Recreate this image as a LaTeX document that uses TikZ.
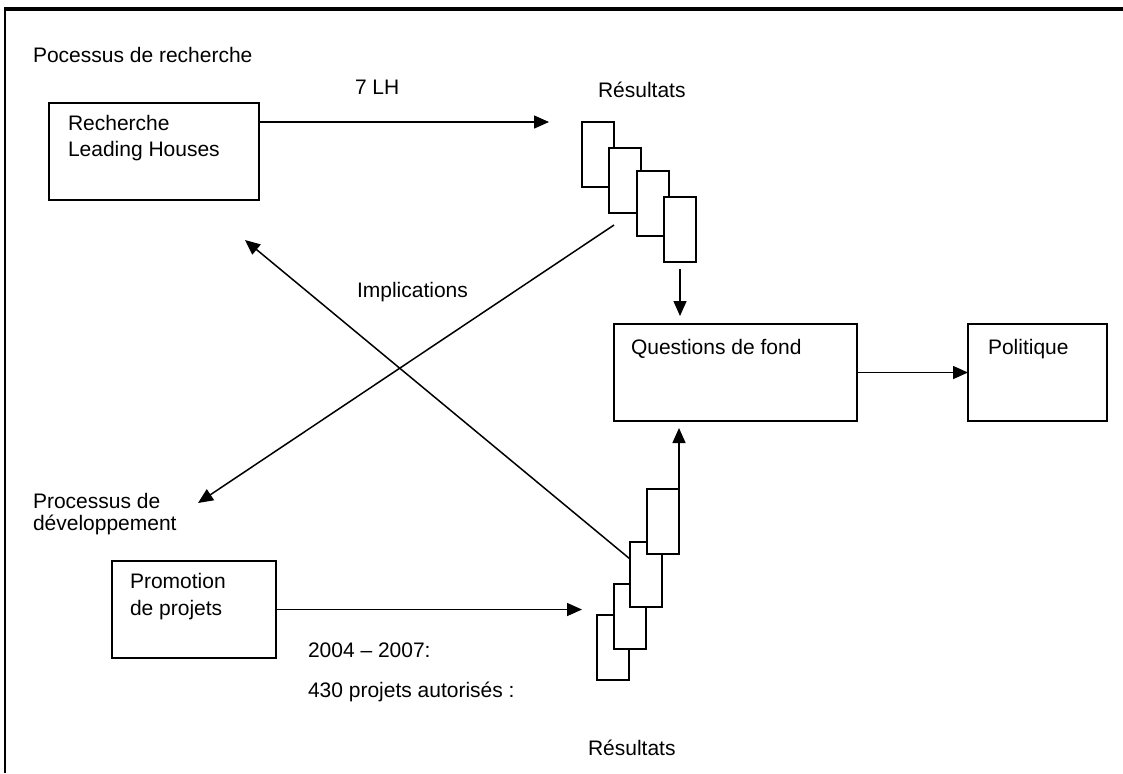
\documentclass[tikz,border=0pt]{standalone}
\usepackage{fontspec}
\setmainfont{Liberation Sans}
\usetikzlibrary{arrows.meta}
\begin{document}
\begin{tikzpicture}[x=0.5pt,y=-0.5pt,
		every node/.style={inner sep=0,outer sep=0,font=\fontsize{10.5pt}{13pt}\selectfont},
		txt/.style={anchor=base west},
		box/.style={draw,line width=0.9pt,anchor=north west,minimum height=48.5pt},
		doc/.style={draw,fill=white,line width=0.9pt,anchor=north west,minimum width=16pt,minimum height=32.5pt},
		arr/.style={line width=0.75pt,-{Triangle[length=7.5pt,width=6.5pt]}}]
				\useasboundingbox (0,0) rectangle (1123,773);
				\draw[line width=1pt] (5,773) -- (5,9);
				\draw[line width=1.6pt] (4,9) -- (1123,9);
				\node[box,minimum width=105pt] (rech) at (49,103) {};
				\node[box,minimum width=121.5pt] (quest) at (614,324) {};
				\node[box,minimum width=69.5pt] (pol) at (968,324) {};
				\node[box,minimum width=82pt] (prom) at (112,561) {};
				\node[doc] (S1) at (582,122) {};
				\node[doc] (S2) at (609,148) {};
				\node[doc] (S3) at (637,171) {};
				\node[doc] (S4) at (664,197) {};
				\node[doc] (R1) at (597,615) {};
				\node[doc] (R2) at (614,584) {};
				\node[doc] (R3) at (630,542) {};
				\node[doc] (R4) at (647,489) {};
				\coordinate (A) at (549,122);
				\coordinate (B) at (614,225);
				\coordinate (B1) at (198,503);
				\coordinate (C) at (630,559);
				\coordinate (C1) at (245,240);
				\draw[arr] (rech.east |- A) -- (A);
				\draw[arr] ([yshift=-3.5pt]S4.south) -- ([yshift=4pt]quest.north -| S4.south);
				\draw[arr] (quest) -- (pol);
				\draw[arr] (R4.north east) -- ([yshift=-3.5pt]quest.south -| R4.north east);
				\draw[arr] (prom) -- ([xshift=-7.5pt]prom.east -| R1.west);
				\draw[arr] (B) -- (B1);
				\draw[arr] (C) -- (C1);
				\node[txt] (t1) at (33,62) {Pocessus de recherche};
				\node[txt] (lh) at (355,94) {7 LH};
				\node[txt] (rech1) at (68,130) {Recherche};
				\node[txt] (rech2) at (68,156) {Leading Houses};
				\node[txt] (res1) at (598,97) {Résultats};
				\node[txt] (impl) at (357,297) {Implications};
				\node[txt] (quest1) at (631,354) {Questions de fond};
				\node[txt] (pol1) at (988,354) {Politique};
				\node[txt] (t2) at (33,508) {Processus de};
				\node[txt] (t3) at (33,530) {développement};
				\node[txt] (prom1) at (130,588) {Promotion};
				\node[txt] (prom2) at (130,615) {de projets};
				\node[txt] (yr) at (308,657) {2004 – 2007:};
				\node[txt] (nb) at (308,697) {430 projets autorisés :};
				\node[txt] (res2) at (588,755) {Résultats};
\end{tikzpicture}
\end{document}
